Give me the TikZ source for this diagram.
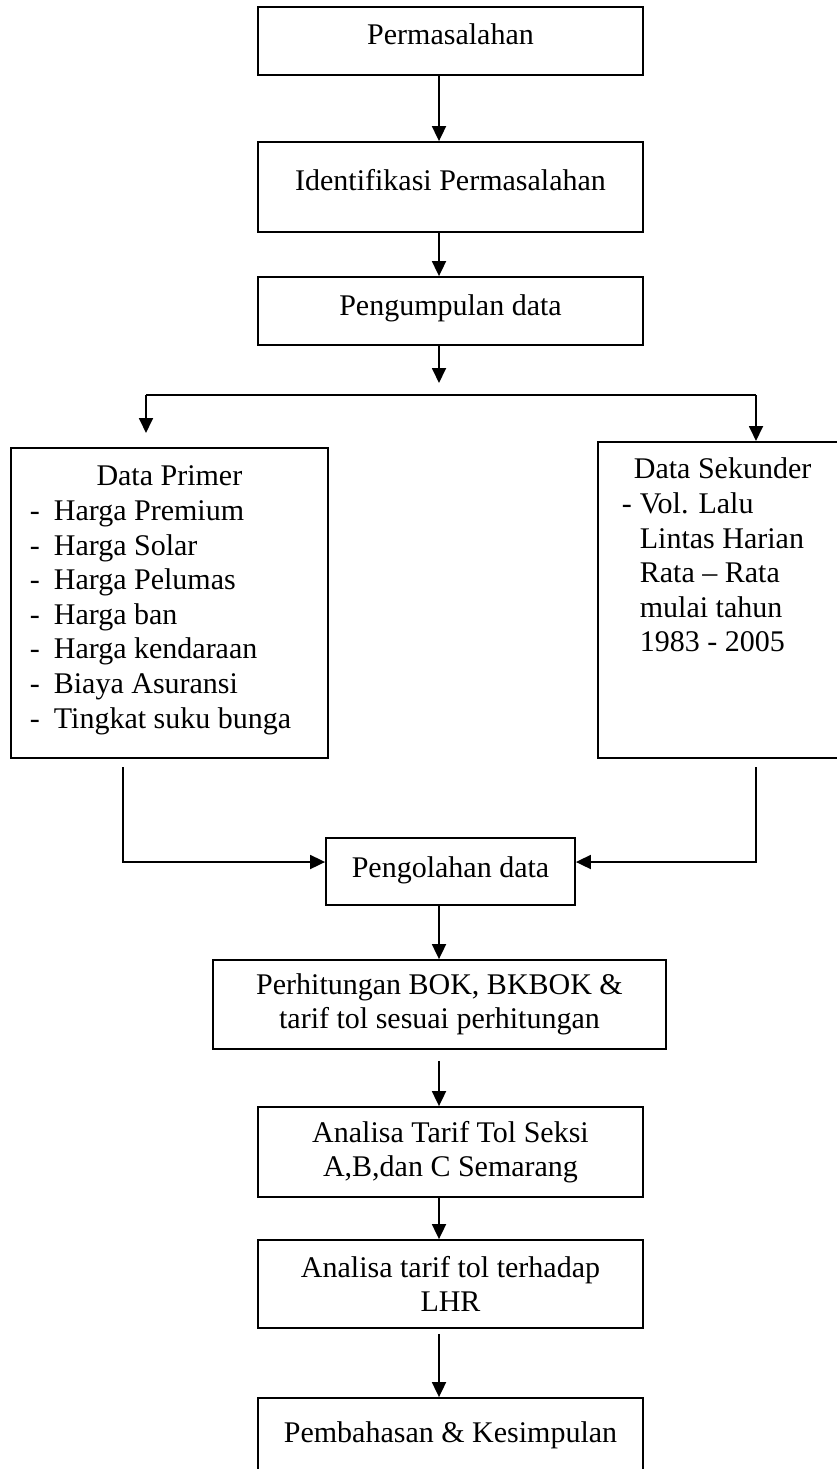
\documentclass[tikz,border=0pt]{standalone}
\usepackage{fontspec}
\setmainfont{Liberation Serif}[Ligatures={TeX,NoCommon}]
\usetikzlibrary{arrows.meta}

\newcommand{\pline}[2]{\hbox to \hsize{\hspace{#1}#2\hfil}}

\tikzset{
  flowbox/.style={draw, line width=1.8pt, inner sep=0pt, font=\fontsize{30}{34.6}\selectfont},
}

\begin{document}
\begin{tikzpicture}[x=1pt, y=-1pt, line width=1.8pt, >={Triangle[length=15pt,width=14pt]}]
        \useasboundingbox (0,0) rectangle (836,1469);

        \node[flowbox, minimum width=385pt, text height=38pt, text depth=30pt] (perm) at (450.5,41) {Permasalahan};
        \node[flowbox, minimum width=385pt, text height=48pt, text depth=42pt] (ident) at (450.5,187) {Identifikasi Permasalahan};
        \node[flowbox, minimum width=385pt, text height=38pt, text depth=30pt] (kumpul) at (450.5,311) {Pengumpulan data};

        \node[flowbox, anchor=north west] (primer) at (10,447) {\vbox to 310pt{\hsize=317pt
            \vskip 38pt
            \pline{0pt}{\hfil\smash{Data Primer}}
            \pline{19pt}{\makebox[24pt][l]{-}Harga Premium}
            \pline{19pt}{\makebox[24pt][l]{-}Harga Solar}
            \pline{19pt}{\makebox[24pt][l]{-}Harga Pelumas}
            \pline{19pt}{\makebox[24pt][l]{-}Harga ban}
            \pline{19pt}{\makebox[24pt][l]{-}Harga kendaraan}
            \pline{19pt}{\makebox[24pt][l]{-}Biaya Asuransi}
            \pline{19pt}{\makebox[24pt][l]{-}Tingkat suku bunga}
            \vfill}};
        \node[flowbox, anchor=north west] (sekunder) at (597,441) {\vbox to 316pt{\hsize=253pt
            \vskip 37pt
            \pline{36pt}{\smash{Data Sekunder}}
            \pline{24pt}{\makebox[18pt][l]{-}Vol. Lalu}
            \pline{42pt}{Lintas Harian}
            \pline{42pt}{Rata – Rata}
            \pline{42pt}{mulai tahun}
            \pline{42pt}{1983 - 2005}
            \vfill}};

        \node[flowbox, minimum width=249pt, text height=39pt, text depth=28pt] (olah) at (450.5,871.5) {Pengolahan data};
        \node[flowbox, minimum width=453pt, minimum height=89pt, align=center] (hitung) at (439.5,1004.5) {Perhitungan BOK, BKBOK \&\\tarif tol sesuai perhitungan};
        \node[flowbox, minimum width=385pt, minimum height=90pt, align=center] (tarif) at (450.5,1152) {Analisa Tarif Tol Seksi\\A,B,dan C Semarang};
        \node[flowbox, minimum width=385pt, minimum height=88pt, align=center] (lhr) at (450.5,1284) {Analisa tarif tol terhadap\\LHR};
        \node[flowbox, minimum width=385pt, text height=44pt, text depth=48pt] (bahas) at (450.5,1444) {Pembahasan \& Kesimpulan};

        \coordinate (axis) at (439,0);
        \coordinate (fork) at (439,395);
        \coordinate (forkL) at (146,395);
        \coordinate (forkR) at (756,395);
        \coordinate (pfoot) at (123,767);
        \coordinate (sfoot) at (756,767);

        \draw[->] (perm.south -| axis) -- (ident.north -| axis);
        \draw[->] (ident.south -| axis) -- (kumpul.north -| axis);
        \draw[->] (kumpul.south -| axis) -- ([yshift=12pt]fork);

        \draw (forkL) -- (forkR);
        \draw[->] (forkL) -- ([yshift=14pt]primer.north -| forkL);
        \draw[->] (forkR) -- (sekunder.north -| forkR);

        \draw[->] (pfoot) |- ([yshift=9.5pt]olah.west);
        \draw[->] (sfoot) |- ([yshift=9.5pt]olah.east);

        \draw[->] (olah.south -| axis) -- (hitung.north -| axis);
        \draw[->] ([yshift=-11pt]hitung.south -| axis) -- (tarif.north -| axis);
        \draw[->] (tarif.south -| axis) -- (lhr.north -| axis);
        \draw[->] ([yshift=-5pt]lhr.south -| axis) -- (bahas.north -| axis);
    \end{tikzpicture}
\end{document}
